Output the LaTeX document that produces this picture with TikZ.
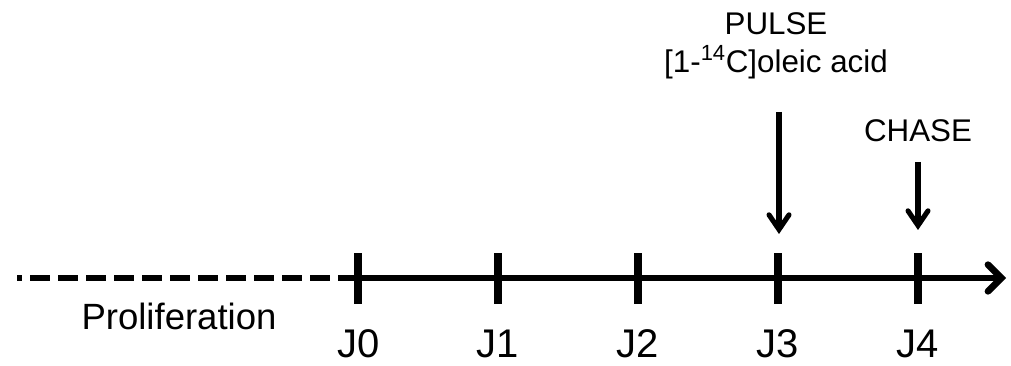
\documentclass[tikz,border=0pt]{standalone}
\usepackage{fontspec}
\setmainfont{Liberation Sans}
\usepackage{tikz}
\usetikzlibrary{arrows.meta, positioning}

\begin{document}
\begin{tikzpicture}[x=0.75pt, y=-0.75pt,
        axis/.style={draw, line width=5pt},
        tickmark/.style={draw, line width=5.6pt},
        pointer/.style={draw, line width=3.8pt, -{Straight Barb[length=11pt, width=15pt, line cap=round]}},
        dayname/.style={font=\fontsize{30}{36}\selectfont, inner sep=0pt, anchor=base},
        event/.style={font=\fontsize{23.5}{28}\selectfont, inner sep=0pt, anchor=base}]

        \useasboundingbox (0,0) rectangle (1011,366);

        % Days on the time line
        \coordinate (start) at (17,278);
        \coordinate (j0) at (358,278);
        \coordinate (j1) at (498,278);
        \coordinate (j2) at (638,278);
        \coordinate (j3) at (778,278);
        \coordinate (j4) at (918,278);
        \coordinate (stop) at (1006,278);

        % Time line
        \path [axis, dash pattern=on 15pt off 6pt, dash phase=11.25pt] (start) -- (j0);
        \path [axis, -{Straight Barb[length=10pt, width=20pt, line cap=round]}] (j0) -- (stop);
        \foreach \d in {j0,j1,j2,j3,j4}
            \path [tickmark] ([yshift=-26*0.75pt]\d) -- ([yshift=25*0.75pt]\d);

        % Labels
        \node [dayname] (l0) at (359,358) {J0};
        \node [dayname] (l1) at (498,358) {J1};
        \node [dayname] (l2) at (638,358) {J2};
        \node [dayname] (l3) at (778,358) {J3};
        \node [dayname] (l4) at (918,358) {J4};
        \node [dayname, font=\fontsize{27.4}{32}\selectfont] (prolif) at (179,330) {Proliferation};

        % Pulse and chase
        \node [event] (pulse) at (776,35) {PULSE};
        \node [event] (tracer) at (776,73) {[1-\textsuperscript{14}C]oleic acid};
        \node [event] (chase) at (918,142) {CHASE};
        \coordinate (pulsetop) at (779,112);
        \coordinate (pulsetip) at (779,234);
        \coordinate (chasetop) at (918,162);
        \coordinate (chasetip) at (918,230);
        \path [pointer] (pulsetop) -- (pulsetip);
        \path [pointer] (chasetop) -- (chasetip);
\end{tikzpicture}
\end{document}
